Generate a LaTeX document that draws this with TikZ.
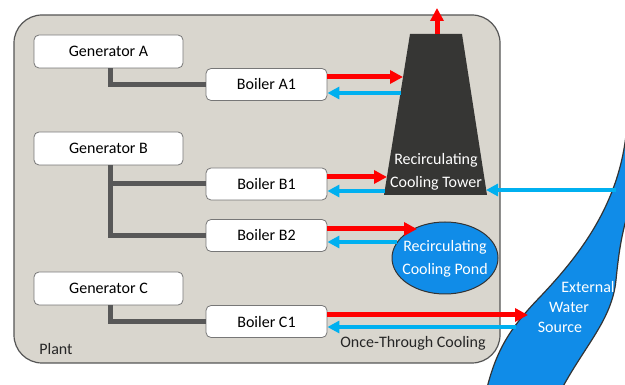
\documentclass[tikz,border=0pt]{standalone}
\usepackage{fontspec}
\setmainfont{Carlito}
\usetikzlibrary{arrows.meta}
\definecolor{plantbg}{RGB}{217,214,206}
\definecolor{plantline}{RGB}{85,85,85}
\definecolor{conngray}{RGB}{88,88,88}
\definecolor{towerfill}{RGB}{54,54,52}
\definecolor{waterblue}{RGB}{16,140,232}
\definecolor{coldblue}{RGB}{0,176,240}
\definecolor{hotred}{RGB}{255,0,0}
\tikzset{
  box/.style={draw=plantline!80, line width=0.8pt, fill=white, rounded corners=5pt, inner sep=0pt, font=\fontsize{16}{19}\selectfont},
  genbox/.style={box, minimum width=149pt, minimum height=33pt},
  boilbox/.style={box, minimum width=121pt, minimum height=32pt},
  conn/.style={draw=conngray, line width=5pt},
  hot/.style={draw=hotred, line width=5pt, -{Triangle[length=13pt,width=13pt]}},
  cold/.style={draw=coldblue, line width=4pt, -{Triangle[length=12pt,width=12pt]}},
  lbl/.style={font=\fontsize{16}{19}\selectfont, inner sep=0pt},
  wlbl/.style={lbl, text=white},
}
\begin{document}
\begin{tikzpicture}[x=1pt,y=-1pt]
\useasboundingbox (0,0) rectangle (625,385);
% plant
\draw[fill=plantbg, draw=plantline, line width=1.2pt, rounded corners=28pt] (14,15) rectangle (500,363);
\node[lbl, text=black!85] (plant) at (56,349) {Plant};
% river
\begin{scope}
\clip (0,0) rectangle (625,385);
\draw[fill=waterblue, draw=black!80, line width=1.2pt]
  (626,135) .. controls (618,205) and (580,255) .. (540,297)
  .. controls (510,328) and (496,350) .. (486,392)
  -- (560,392) .. controls (585,345) and (612,320) .. (616,280)
  .. controls (619,250) and (622,230) .. (632,200)
  -- (640,200) -- (640,135) -- cycle;
\end{scope}
\node[wlbl] (ext1) at (588,287) {External};
\node[wlbl] (ext2) at (569,307) {Water};
\node[wlbl] (ext3) at (560,327) {Source};
% tower
\fill[towerfill] (410,34) -- (462,34) -- (487,195) -- (384,195) -- cycle;
\node[wlbl, align=center, font=\fontsize{16}{23}\selectfont] (tower) at (436,171.5) {Recirculating\\Cooling Tower};
\coordinate (ttop) at (437,34);
\coordinate (tvent) at (437,8);
\coordinate (tA1hot) at (403,77);
\coordinate (tA1cold) at (400.5,93);
\coordinate (tB1hot) at (387,177);
\coordinate (tB1cold) at (384.5,191);
\coordinate (tR) at (486,190);
\coordinate (riverT) at (616,190);
% pond
\draw[fill=waterblue, draw=black!80, line width=1pt] (445,258) ellipse [x radius=53, y radius=36];
\node[wlbl, align=center, font=\fontsize{16}{23}\selectfont] (pond) at (445,258.5) {Recirculating\\Cooling Pond};
\coordinate (pondhot) at (417,229);
\coordinate (pondcold) at (397,242);
\coordinate (riverhot) at (528,315);
\coordinate (rivercold) at (516,327);
% generators and boilers
\node[genbox] (genA) at (108.5,51.5) {Generator A};
\node[genbox] (genB) at (108.5,148.5) {Generator B};
\node[genbox] (genC) at (108.5,288.5) {Generator C};
\node[boilbox] (boilA1) at (266.5,84.5) {Boiler A1};
\node[boilbox] (boilB1) at (266.5,184) {Boiler B1};
\node[boilbox] (boilB2) at (266.5,235.5) {Boiler B2};
\node[boilbox] (boilC1) at (266.5,321.5) {Boiler C1};
% gray connectors
\draw[conn] ([xshift=1.5pt]genA.south) |- (boilA1.west);
\draw[conn] ([xshift=1.5pt]genB.south) |- (boilB1.west);
\draw[conn] ([xshift=1.5pt]genB.south) |- (boilB2.west);
\draw[conn] ([xshift=1.5pt]genC.south) |- (boilC1.west);
% flows
\draw[hot] (ttop) -- (tvent);
\draw[hot] (boilA1.east |- tA1hot) -- (tA1hot);
\draw[cold] (tA1cold) -- (boilA1.east |- tA1cold);
\draw[hot] (boilB1.east |- tB1hot) -- (tB1hot);
\draw[cold] (tB1cold) -- (boilB1.east |- tB1cold);
\draw[cold] (riverT) -- (tR);
\draw[hot] (boilB2.east |- pondhot) -- (pondhot);
\draw[cold] (pondcold) -- (boilB2.east |- pondcold);
\draw[hot] (boilC1.east |- riverhot) -- (riverhot);
\draw[cold] (rivercold) -- (boilC1.east |- rivercold);
\node[lbl, text=black!85] (otc) at (413,343) {Once-Through Cooling};
\end{tikzpicture}
\end{document}
